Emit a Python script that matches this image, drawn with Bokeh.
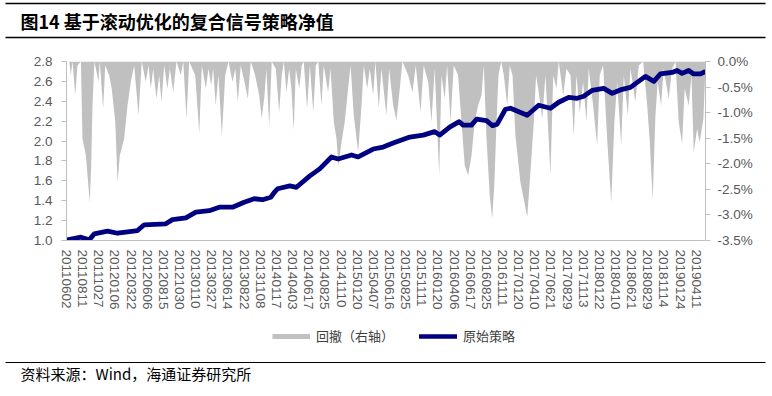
from bokeh.plotting import figure
from bokeh.models import (Range1d, LinearAxis, FixedTicker, PrintfTickFormatter,
                          Legend, LegendItem, Label)
from bokeh.embed import file_html
from bokeh.resources import INLINE

# ---------------- data ----------------
tick_labels = ["20110602", "20110811", "20111027", "20120106", "20120322", "20120606",
               "20120815", "20121030", "20130110", "20130327", "20130614", "20130822",
               "20131108", "20140117", "20140403", "20140617", "20140825", "20141110",
               "20150120", "20150407", "20150616", "20150825", "20151111", "20160120",
               "20160406", "20160617", "20160825", "20161111", "20170120", "20170410",
               "20170621", "20170829", "20171113", "20180122", "20180410", "20180621",
               "20180829", "20181114", "20190124", "20190411"]

# x positions are in units of "tick-label intervals"
nav_x = [0.00, 0.06, 0.89, 1.41, 1.72, 2.54, 3.16, 4.40, 4.81, 6.15, 6.56, 7.39, 8.01, 8.84,
         9.46, 10.28, 11.00, 11.62, 12.14, 12.65, 12.90, 13.07, 13.83, 14.24, 15.07, 15.68,
         16.41, 16.82, 17.65, 18.06, 18.99, 19.61, 20.23, 21.26, 22.09, 22.80, 23.11, 23.73,
         24.32, 24.56, 25.08, 25.39, 26.01, 26.38, 26.67, 27.18, 27.49, 28.53, 29.24, 29.97,
         30.48, 31.10, 31.62, 32.03, 32.55, 33.27, 33.79, 34.41, 34.92, 35.85, 36.37, 36.78,
         37.50, 37.81, 38.12, 38.53, 38.84, 39.26, 39.57]
nav_y = [1.000, 1.007, 1.033, 1.007, 1.067, 1.094, 1.073, 1.100, 1.158, 1.168, 1.210, 1.228,
         1.285, 1.300, 1.335, 1.335, 1.385, 1.420, 1.410, 1.435, 1.490, 1.520, 1.550, 1.535,
         1.650, 1.720, 1.840, 1.820, 1.860, 1.840, 1.920, 1.940, 1.980, 2.040, 2.060, 2.095,
         2.060, 2.140, 2.195, 2.160, 2.160, 2.220, 2.205, 2.155, 2.170, 2.320, 2.330, 2.260,
         2.360, 2.330, 2.390, 2.440, 2.430, 2.450, 2.510, 2.530, 2.480, 2.520, 2.540, 2.650,
         2.600, 2.675, 2.690, 2.710, 2.680, 2.710, 2.675, 2.675, 2.700]

dd_x = [0.00, 0.17, 0.27, 0.37, 0.54, 0.68, 0.89, 0.99, 1.20, 1.44,
        1.53, 1.61, 1.73, 1.98, 2.06, 2.27, 2.40, 2.64, 2.80, 3.02,
        3.16, 3.30, 3.57, 3.78, 3.98, 4.19, 4.46, 4.66, 4.91, 5.08,
        5.22, 5.37, 5.57, 5.74, 5.88, 6.05, 6.25, 6.40, 6.61, 6.81,
        7.08, 7.23, 7.43, 7.60, 7.97, 8.22, 8.38, 8.63, 8.79, 8.96,
        9.08, 9.24, 9.41, 9.62, 9.83, 10.03, 10.28, 10.45, 10.61, 10.79,
        11.07, 11.23, 11.41, 11.68, 11.93, 12.09, 12.26, 12.38, 12.55, 12.71,
        12.96, 13.17, 13.33, 13.46, 13.62, 13.79, 13.93, 14.07, 14.20, 14.41,
        14.57, 14.69, 14.90, 15.07, 15.28, 15.44, 15.59, 15.79, 15.93, 16.20,
        16.35, 16.55, 16.72, 16.84, 17.03, 17.23, 17.44, 17.59, 17.79, 18.06,
        18.27, 18.41, 18.62, 18.78, 18.99, 19.13, 19.34, 19.50, 19.81, 19.98,
        20.23, 20.43, 20.64, 20.80, 21.16, 21.42, 21.63, 21.92, 22.12, 22.40,
        22.60, 22.80, 23.08, 23.22, 23.42, 23.57, 23.78, 23.98, 24.25, 24.46,
        24.66, 24.87, 25.08, 25.28, 25.49, 25.70, 25.84, 26.01, 26.21, 26.36,
        26.50, 26.63, 26.75, 26.92, 27.08, 27.29, 27.45, 27.62, 27.80, 28.11,
        28.53, 28.73, 28.94, 29.08, 29.24, 29.46, 29.66, 29.97, 30.14, 30.34,
        30.48, 30.76, 30.96, 31.21, 31.41, 31.58, 31.78, 31.99, 32.20, 32.34,
        32.61, 32.86, 33.02, 33.23, 33.48, 33.73, 33.93, 34.10, 34.35, 34.51,
        34.76, 34.92, 35.23, 35.44, 35.71, 35.96, 36.12, 36.30, 36.47, 36.61,
        36.82, 36.98, 37.29, 37.50, 37.71, 37.91, 38.12, 38.28, 38.53, 38.70,
        38.84, 39.05, 39.21, 39.44, 39.57]
# drawdown in percent (right axis)
dd_y = [0, 0, -0.27, 0, -0.66, -0.08, 0, -1.51, -1.84, -2.75,
        -2.03, -0.86, 0, -0.40, 0, -0.92, -0.08, -0.27, -0.53, -1.18,
        -2.36, -1.84, -1.51, -0.86, -0.40, -0.08, -1.05, 0, -0.40, -0.08,
        -0.53, -0.14, -0.73, -0.27, -0.79, -0.08, -0.53, -0.14, -0.60, 0,
        -0.27, 0, -1.12, 0, -0.27, -1.41, -0.08, -0.53, -0.14, -0.47,
        -0.14, -0.86, -0.27, -1.45, -0.27, 0, -0.40, -0.14, -0.79, -0.08,
        -0.47, -0.73, 0, -0.27, -0.66, -1.12, -0.66, -0.14, -1.28, 0,
        -0.14, -0.99, -0.27, 0, -0.60, -0.14, -0.53, -1.35, -0.14, -0.53,
        -0.08, 0, -0.92, -0.08, -0.99, -0.08, 0, -0.86, -0.08, -0.60,
        -0.14, -1.18, -1.51, -2.06, -1.58, -1.18, -0.53, -0.08, -1.05, -1.77,
        -0.86, -0.08, -0.53, -0.14, -0.66, 0, -0.92, -0.14, -1.05, -0.14,
        -0.86, -1.15, -0.53, 0, -0.27, -0.60, -0.08, -0.99, -0.08, -0.40,
        -1.18, -0.14, -2.23, -0.27, -0.73, -0.08, -1.18, -0.08, -0.27, -1.18,
        -2.03, -2.23, -1.84, -1.18, -0.86, -0.66, -0.08, -1.51, -2.62, -3.07,
        -2.36, -1.18, -0.27, 0, -0.27, -0.86, -0.08, -0.27, -1.45, -2.36,
        -3.04, -2.16, -1.18, -0.27, -0.60, -1.12, -0.27, -2.23, -0.27, -0.53,
        0, -0.66, -0.14, -0.27, -1.45, -0.27, -0.99, -0.40, -1.18, -0.14,
        -0.86, -1.64, -0.27, -0.08, -1.51, -2.75, -1.18, -0.40, -1.64, -0.27,
        -1.05, -0.14, -0.79, -0.08, 0, -0.86, -1.58, -2.71, -1.05, -0.40,
        -0.86, -0.14, -0.73, -0.14, 0, -1.18, -1.61, -0.53, -0.86, -0.27,
        -1.77, -1.32, -1.58, -1.12, -0.08]

left_ticks = [1.0, 1.2, 1.4, 1.6, 1.8, 2.0, 2.2, 2.4, 2.6, 2.8]
right_ticks = [-3.5, -3.0, -2.5, -2.0, -1.5, -1.0, -0.5, 0.0]

title_text = "图14 基于滚动优化的复合信号策略净值"
source_text = "资料来源：Wind，海通证券研究所"
legend_dd = "回撤（右轴）"
legend_nav = "原始策略"

# ---------------- styling ----------------
W = 772
CJK = "Noto Sans CJK SC"
TICK_FONT = "Liberation Sans"
NAVY = "#000080"
GREY_AREA = "#c0c0c0"
NAN = float("nan")


def blank(h):
    f = figure(width=W, height=h, x_range=Range1d(0, W), y_range=Range1d(0, h),
               toolbar_location=None, output_backend="svg", min_border=0,
               x_axis_location=None, y_axis_location=None, outline_line_color=None)
    f.grid.visible = False
    return f


# header (page rows 0..45)
header = blank(45)
header.segment(x0=[5], y0=[42], x1=[765], y1=[42], line_color="black", line_width=1.6)
header.segment(x0=[5], y0=[8], x1=[765], y1=[8], line_color="black", line_width=1.3)
header.add_layout(Label(x=20, y=24.5, text=title_text, text_font=CJK,
                        text_font_size="18px", text_font_style="bold",
                        text_baseline="middle", text_color="black"))

# main chart (page rows 45..320)
p = figure(width=W, height=275, x_range=Range1d(0, 39.57), y_range=Range1d(1.0, 2.8),
           toolbar_location=None, output_backend="svg",
           min_border_left=66, min_border_right=67, min_border_top=16, min_border_bottom=80,
           outline_line_color=None)
p.grid.visible = False
p.extra_y_ranges = {"dd": Range1d(-3.5, 0)}

dd_r = p.varea(x=dd_x, y1=0, y2=dd_y, y_range_name="dd", fill_color=GREY_AREA)
nav_r = p.line(nav_x, nav_y, line_color=NAVY, line_width=4.8, line_join="round")

raxis = LinearAxis(y_range_name="dd")
p.add_layout(raxis, "right")

for ax in [p.xaxis[0], p.yaxis[0], raxis]:
    ax.axis_line_color = "#bfbfbf"
    ax.major_tick_line_color = "#bfbfbf"
    ax.minor_tick_line_color = None
    ax.major_tick_in = 0
    ax.major_tick_out = 5
    ax.major_label_text_font = TICK_FONT
    ax.major_label_text_font_size = "13.5px"
    ax.major_label_text_color = "#595959"

xa = p.xaxis[0]
xa.ticker = FixedTicker(ticks=list(range(len(tick_labels))))
xa.major_label_overrides = {i: lab for i, lab in enumerate(tick_labels)}
xa.major_label_orientation = "vertical"
xa.major_tick_out = 0
xa.major_label_standoff = 9

ya = p.yaxis[0]
ya.ticker = FixedTicker(ticks=left_ticks)
ya.formatter = PrintfTickFormatter(format="%.1f")
ya.major_label_standoff = 9

raxis.ticker = FixedTicker(ticks=right_ticks)
raxis.formatter = PrintfTickFormatter(format="%.1f%%")
raxis.major_label_standoff = 7

# footer (page rows 320..396): legend, rule, source
footer = blank(76)
# legend keys: same styling as the chart series, no visible marks of their own
key_dd = footer.line(x=[NAN], y=[NAN], line_color=GREY_AREA, line_width=5)
key_nav = footer.line(x=[NAN], y=[NAN], line_color=NAVY, line_width=4.5, line_cap="round")
legend = Legend(items=[LegendItem(label=legend_dd, renderers=[key_dd]),
                       LegendItem(label=legend_nav, renderers=[key_nav])],
                location=(272, 51), orientation="horizontal",
                padding=0, margin=0, spacing=25, label_standoff=6,
                glyph_width=38, glyph_height=16, label_height=16,
                label_text_font=CJK, label_text_font_size="13px",
                label_text_color="#404040",
                background_fill_alpha=0, border_line_color=None)
footer.add_layout(legend)
footer.segment(x0=[5], y0=[34], x1=[765], y1=[34], line_color="black", line_width=1.2)
footer.add_layout(Label(x=20, y=23, text=source_text, text_font=CJK,
                        text_font_size="15px", text_baseline="middle", text_color="black"))

open("out.html", "w").write(file_html([header, p, footer], INLINE))
